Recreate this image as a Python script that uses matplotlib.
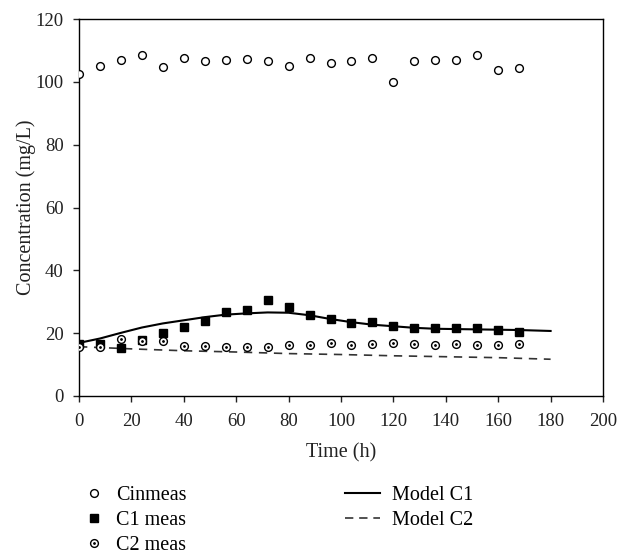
import numpy as np
import matplotlib
matplotlib.use('Agg')
import matplotlib.pyplot as plt
from matplotlib.lines import Line2D
from matplotlib.legend_handler import HandlerTuple

plt.rcParams['font.family'] = ['Liberation Serif', 'DejaVu Serif']

# measured data, sampled every 8 h
t_meas = [0, 8, 16, 24, 32, 40, 48, 56, 64, 72, 80, 88, 96, 104, 112, 120,
          128, 136, 144, 152, 160, 168]
cin_meas = [102.6, 105.0, 107.0, 108.5, 104.8, 107.7, 106.5, 106.9, 107.2, 106.5, 105.1,
            107.7, 106.1, 106.5, 107.7, 100.1, 106.5, 107.1, 107.1, 108.4, 103.9, 104.3]
c1_meas = [16.7, 16.5, 15.3, 17.8, 20.0, 22.0, 23.8, 26.6, 27.3, 30.6, 28.4,
           25.9, 24.6, 23.3, 23.7, 22.3, 21.7, 21.6, 21.6, 21.6, 21.0, 20.3]
c2_meas = [15.7, 15.7, 18.0, 17.4, 17.5, 16.0, 16.0, 15.7, 15.6, 15.5, 16.1,
           16.2, 16.8, 16.3, 16.5, 17.0, 16.4, 16.2, 16.6, 16.3, 16.3, 16.4]

# model curves
t_c1 = [0, 8, 16, 24, 32, 40, 48, 56, 64, 72, 80, 88, 96, 104, 112, 120,
        128, 136, 144, 152, 160, 168, 180]
model_c1 = [16.9, 18.3, 20.1, 21.8, 23.1, 24.1, 25.1, 25.9, 26.3, 26.6, 26.5,
            25.7, 24.5, 23.5, 22.7, 22.2, 21.7, 21.4, 21.3, 21.2, 21.1, 21.0, 20.7]
t_c2 = [0, 20, 40, 60, 80, 100, 120, 140, 160, 180]
model_c2 = [15.7, 15.0, 14.4, 14.0, 13.5, 13.2, 12.8, 12.5, 12.2, 11.7]

fig = plt.figure(figsize=(6.3, 5.54), dpi=100)
ax = fig.add_axes([79/630, 1-396/554, 524/630, 377/554])

ax.plot(t_c1, model_c1, color='black', lw=1.5, zorder=2)
ax.plot(t_c2, model_c2, color='#333333', lw=1.2, dashes=(5, 4), zorder=2)
ax.plot(t_meas, cin_meas, 'o', mfc='white', mec='black', ms=5.6, mew=1.0, zorder=3)
ax.plot(t_meas, c1_meas, 's', mfc='black', mec='black', ms=5.8, zorder=3)
ax.plot(t_meas, c2_meas, 'o', mfc='white', mec='black', ms=5.6, mew=1.0, zorder=3)
ax.plot(t_meas, c2_meas, '.', color='black', ms=2, zorder=4)

ax.set_xlim(0, 200)
ax.set_ylim(0, 120)
ax.set_xticks(np.arange(0, 201, 20))
ax.set_yticks(np.arange(0, 121, 20))
ax.tick_params(direction='out', length=4, width=1, labelsize=13.5, colors='#222222')
ax.tick_params(axis='y', pad=7)
ax.tick_params(axis='x', pad=8)
for s in ax.spines.values():
    s.set_linewidth(1.0)
ax.set_xlabel('Time (h)', fontsize=14.5, labelpad=10, color='#222222')
ax.set_ylabel('Concentration (mg/L)', fontsize=14.5, labelpad=0, color='#222222')

# legends below the plot
h_cin = Line2D([], [], marker='o', ls='none', mfc='white', mec='black', ms=5.6, mew=1.0)
h_c1 = Line2D([], [], marker='s', ls='none', mfc='black', mec='black', ms=5.8)
h_c2o = Line2D([], [], marker='o', ls='none', mfc='white', mec='black', ms=5.6, mew=1.0)
h_c2d = Line2D([], [], marker='.', ls='none', color='black', ms=2)
leg1 = fig.legend([h_cin, h_c1, (h_c2o, h_c2d)], ['Cinmeas', 'C1 meas', 'C2 meas'],
                  loc='upper left', bbox_to_anchor=(84/630, 1-486/554), frameon=False,
                  fontsize=14.5, handlelength=1.0, handletextpad=0.6, labelspacing=0.28,
                  borderpad=0, borderaxespad=0,
                  handler_map={tuple: HandlerTuple(ndivide=1, pad=0)})
h_m1 = Line2D([], [], color='black', lw=1.5)
h_m2 = Line2D([], [], color='#333333', lw=1.2, dashes=(5, 3.5))
leg2 = fig.legend([h_m1, h_m2], ['Model C1', 'Model C2'],
                  loc='upper left', bbox_to_anchor=(345/630, 1-486/554), frameon=False,
                  fontsize=14.5, handlelength=1.75, handletextpad=0.6, labelspacing=0.28,
                  borderpad=0, borderaxespad=0)

fig.savefig('out.png', dpi=100)
